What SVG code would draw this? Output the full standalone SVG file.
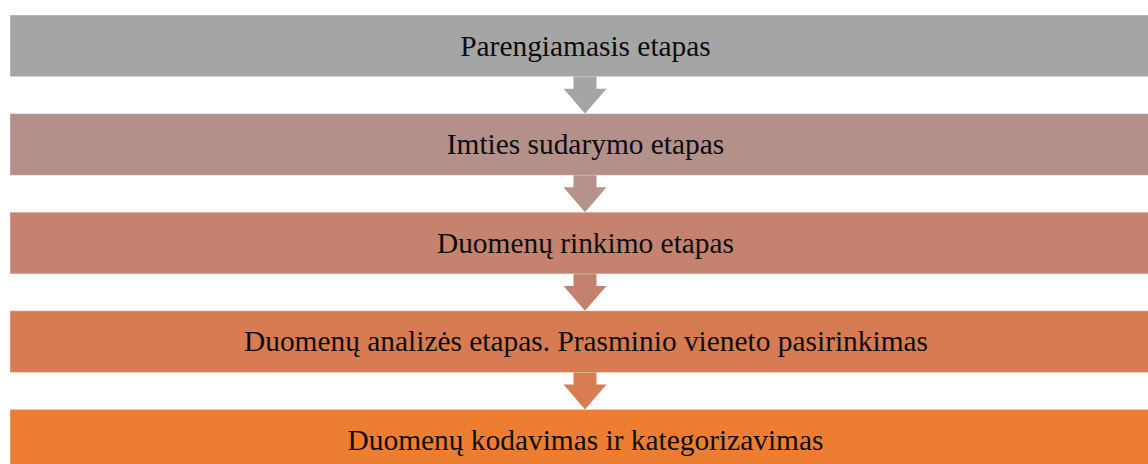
<svg xmlns="http://www.w3.org/2000/svg" width="1148" height="464" viewBox="0 0 1148 464">
<style>
.box{stroke:#ffffff;stroke-opacity:0.35;stroke-width:1}
.lbl{font-family:"Liberation Serif","Times New Roman",serif;font-size:29.4px;fill:#0d0d0d;text-anchor:middle}
</style>
<rect width="1148" height="464" fill="#ffffff"/>
<g id="connectors">
<polygon fill="#A5A5A5" points="573.5,70 596.5,70 596.5,88.7 606.5,88.7 585,113.6 563.5,88.7 573.5,88.7"/>
<polygon fill="#B5928C" points="573.5,170 596.5,170 596.5,187.3 606.5,187.3 585,212.2 563.5,187.3 573.5,187.3"/>
<polygon fill="#C4816F" points="573.5,268 596.5,268 596.5,285.9 606.5,285.9 585,310.8 563.5,285.9 573.5,285.9"/>
<polygon fill="#D87C52" points="573.5,366 596.5,366 596.5,384.5 606.5,384.5 585,409.4 563.5,384.5 573.5,384.5"/>
</g>
<g id="node1">
<rect class="box" x="10" y="15" width="1150" height="61.7" fill="#A5A5A5"/>
<text class="lbl" x="585.5" y="55.5">Parengiamasis etapas</text>
</g>
<g id="node2">
<rect class="box" x="10" y="113.6" width="1150" height="61.7" fill="#B3908A"/>
<text class="lbl" x="585.5" y="154.1">Imties sudarymo etapas</text>
</g>
<g id="node3">
<rect class="box" x="10" y="212.2" width="1150" height="61.7" fill="#C4826F"/>
<text class="lbl" x="585.5" y="252.7">Duomenų rinkimo etapas</text>
</g>
<g id="node4">
<rect class="box" x="10" y="310.8" width="1150" height="61.7" fill="#D77B52"/>
<text class="lbl" x="586" y="351.3">Duomenų analizės etapas. Prasminio vieneto pasirinkimas</text>
</g>
<g id="node5">
<rect class="box" x="10" y="409.4" width="1150" height="61.7" fill="#ED7E31"/>
<text class="lbl" x="585.5" y="449.9">Duomenų kodavimas ir kategorizavimas</text>
</g>
</svg>
